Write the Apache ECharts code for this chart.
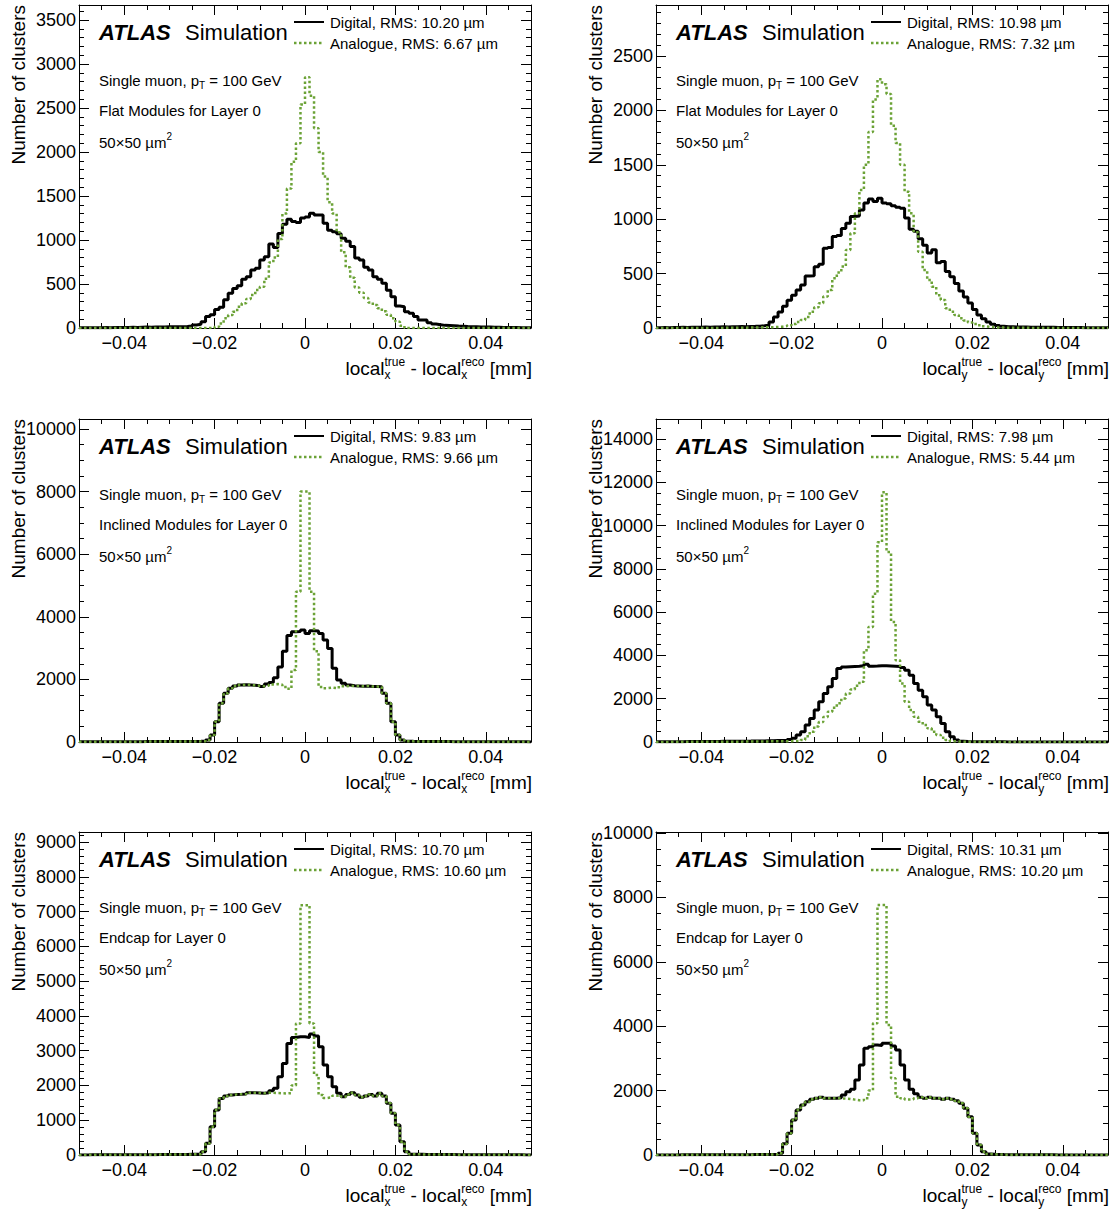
<!DOCTYPE html>
<html><head><meta charset="utf-8">
<script src="https://cdn.jsdelivr.net/npm/echarts@6/dist/echarts.min.js"></script>
<style>html,body{margin:0;padding:0;background:#fff}#c{width:1112px;height:1211px}</style>
</head><body><div id="c"></div>
<script>
// ---------------- DATA (100 bins, 1 µm wide, from -0.05 to 0.05 mm) ----------------
const binLow = -0.05, binWidth = 0.001, nBins = 100;

const flatX_digital = [2,3,2,4,3,5,4,5,6,5,7,8,7,9,10,9,11,12,12,14,15,15,
  15,18,22,35,42,70,130,150,210,235,320,395,450,480,553,583,660,678,773,810,955,915,1075,1180,1235,1210,1200,1250,1260,1303,1285,1285,1190,1110,1095,1070,1020,985,925,795,773,690,660,583,553,508,430,355,250,242,185,167,130,90,90,60,
  45,38,30,28,25,22,20,17,15,14,12,10,10,9,8,7,6,5,5,4,3,3];
const flatX_analogue = [0,0,0,0,0,0,0,0,0,0,0,0,0,0,0,0,0,0,0,0,0,0,0,0,0,0,0,0,0,0,
  15,50,110,148,186,242,280,330,375,432,470,560,745,800,1010,1300,1585,1890,2100,2540,2850,2640,2270,2000,1720,1430,1300,1088,860,690,570,460,400,340,290,260,225,190,150,110,70,25,
  0,0,0,0,0,0,0,0,0,0,0,0,0,0,0,0,0,0,0,0,0,0,0,0,0,0,0,0];

const flatY_digital = [3,4,3,5,5,6,5,7,8,7,9,8,10,9,11,10,12,11,13,12,14,15,17,
  20,25,55,100,148,200,255,300,350,395,477,480,563,585,732,740,840,850,915,963,1025,1030,1085,1148,1185,1163,1193,1148,1141,1123,1110,1100,1010,908,890,820,760,690,720,600,610,520,470,410,340,285,230,170,120,85,55,35,22,15,
  12,11,10,9,9,8,8,7,7,6,6,5,5,5,4,4,4,3,3,3,2,2,2];
const flatY_analogue = [0,0,0,0,0,0,0,0,0,0,0,0,1,1,1,2,2,2,3,3,4,4,5,6,7,8,
  10,12,18,25,37,55,74,100,150,190,227,290,350,456,510,564,717,870,1054,1268,1500,1800,2100,2286,2240,2150,1858,1700,1500,1253,1054,880,700,533,441,380,300,257,181,150,120,90,70,50,37,25,15,10,6,
  5,4,3,3,2,2,2,1,1,1,1,1,0,0,0,0,0,0,0,0,0,0,0,0,0];

const inclX_digital = [5,5,6,6,7,7,8,8,9,9,10,10,11,11,12,12,13,13,14,14,15,15,16,17,18,19,20,25,
  60,224,650,1235,1555,1715,1790,1820,1830,1820,1810,1800,1770,1850,1900,2050,2400,2900,3400,3525,3530,3580,3470,3555,3550,3470,3260,2990,2355,1980,1875,1820,1800,1790,1780,1790,1770,1770,1765,1555,1235,650,224,64,25,
  20,18,17,16,15,14,13,12,12,11,10,10,9,9,8,8,7,7,6,6,5,5,5,4,4,4,3];
const inclX_analogue = [5,5,6,6,7,7,8,8,9,9,10,10,11,11,12,12,13,13,14,14,15,15,16,17,18,19,20,25,
  60,224,650,1235,1555,1715,1790,1820,1830,1820,1810,1800,1780,1800,1840,1850,1830,1760,1700,2300,4800,8000,8000,4800,2900,1760,1720,1740,1720,1750,1780,1790,1790,1790,1780,1790,1770,1770,1765,1555,1235,650,224,64,25,
  20,18,17,16,15,14,13,12,12,11,10,10,9,9,8,8,7,7,6,6,5,5,5,4,4,4,3];

const inclY_digital = [10,12,12,14,15,16,18,20,20,22,24,25,27,28,30,32,34,36,38,40,42,45,48,50,55,60,65,70,
  80,120,170,320,476,783,1090,1475,1860,2243,2550,2934,3395,3460,3480,3490,3500,3520,3594,3502,3510,3520,3520,3510,3500,3490,3440,3318,3088,2703,2396,2089,1705,1475,1167,860,476,246,92,40,20,
  15,12,10,9,8,7,6,6,5,5,4,4,4,3,3,3,3,2,2,2,2,2,1,1,1,1,1,1,1,1,1];
const inclY_analogue = [5,5,6,6,7,7,8,8,9,9,10,10,11,12,13,14,15,16,17,18,20,22,24,26,28,30,32,35,38,40,45,50,
  90,260,470,720,920,1150,1400,1580,1790,2010,2240,2420,2600,2780,4240,5315,6850,9232,11536,8771,5545,3779,2703,1859,1475,1167,937,783,630,476,322,200,92,40,20,
  15,12,10,8,7,6,5,5,4,4,3,3,3,2,2,2,2,1,1,1,1,1,1,1,0,0,0,0,0,0,0,0,0];

const endcapX_digital = [3,3,4,4,5,5,5,6,6,7,7,8,8,9,9,10,10,11,12,12,13,14,15,16,18,20,25,
  96,335,814,1293,1628,1695,1724,1743,1745,1753,1791,1790,1785,1775,1790,1849,1916,2251,2634,3209,3381,3400,3400,3381,3477,3420,3113,2586,2251,1964,1772,1676,1743,1791,1724,1657,1695,1743,1695,1772,1695,1485,1197,862,383,96,
  25,20,18,16,15,14,13,12,12,11,10,10,9,9,8,8,7,7,6,6,5,5,5,4,4,3,3];
const endcapX_analogue = [3,3,4,4,5,5,5,6,6,7,7,8,8,9,9,10,10,11,12,12,13,14,15,16,18,20,25,
  96,335,814,1293,1628,1695,1724,1743,1745,1753,1791,1790,1785,1775,1790,1790,1780,1775,1770,1780,2000,3783,7184,7184,3783,2300,1724,1640,1660,1700,1720,1676,1743,1791,1724,1657,1695,1743,1695,1772,1695,1485,1197,862,383,96,
  25,20,18,16,15,14,13,12,12,11,10,10,9,9,8,8,7,7,6,6,5,5,5,4,4,3,3];

const endcapY_digital = [2,2,3,3,3,4,4,5,5,5,6,6,7,7,8,8,9,9,10,10,11,12,13,14,15,17,20,
  52,350,673,1087,1398,1553,1656,1730,1760,1791,1760,1760,1760,1780,1863,1967,2039,2329,2795,3313,3364,3416,3400,3468,3468,3385,3261,2795,2329,2039,1900,1791,1760,1791,1760,1760,1729,1760,1729,1687,1605,1449,1190,673,311,104,
  31,20,15,12,10,9,8,7,6,6,5,5,4,4,4,3,3,3,2,2,2,2,2,1,1,1,1];
const endcapY_analogue = [2,2,3,3,3,4,4,5,5,5,6,6,7,7,8,8,9,9,10,10,11,12,13,14,15,17,20,
  52,350,673,1087,1398,1553,1656,1730,1760,1791,1760,1760,1760,1760,1750,1740,1720,1700,1700,1760,2000,4089,7764,7764,4037,2381,1811,1760,1720,1730,1760,1791,1760,1791,1760,1760,1729,1760,1729,1687,1605,1449,1190,673,311,104,
  31,20,15,12,10,9,8,7,6,6,5,5,4,4,4,3,3,3,2,2,2,2,2,1,1,1,1];

const xTickLabels = [-0.04, -0.02, 0, 0.02, 0.04];
const yTicksFlatX   = [0,500,1000,1500,2000,2500,3000,3500];
const yTicksFlatY   = [0,500,1000,1500,2000,2500];
const yTicksInclX   = [0,2000,4000,6000,8000,10000];
const yTicksInclY   = [0,2000,4000,6000,8000,10000,12000,14000];
const yTicksEndcapX = [0,1000,2000,3000,4000,5000,6000,7000,8000,9000];
const yTicksEndcapY = [0,2000,4000,6000,8000,10000];

const panels = [
  {dir:'x', region:'Flat Modules for Layer 0',     d:flatX_digital,   a:flatX_analogue,   rmsD:'10.20', rmsA:'6.67',  yMax:3670,  yTicks:yTicksFlatX,   yMinorStep:100},
  {dir:'y', region:'Flat Modules for Layer 0',     d:flatY_digital,   a:flatY_analogue,   rmsD:'10.98', rmsA:'7.32',  yMax:2968,  yTicks:yTicksFlatY,   yMinorStep:100},
  {dir:'x', region:'Inclined Modules for Layer 0', d:inclX_digital,   a:inclX_analogue,   rmsD:'9.83',  rmsA:'9.66',  yMax:10320, yTicks:yTicksInclX,   yMinorStep:500},
  {dir:'y', region:'Inclined Modules for Layer 0', d:inclY_digital,   a:inclY_analogue,   rmsD:'7.98',  rmsA:'5.44',  yMax:14920, yTicks:yTicksInclY,   yMinorStep:500},
  {dir:'x', region:'Endcap for Layer 0',           d:endcapX_digital, a:endcapX_analogue, rmsD:'10.70', rmsA:'10.60', yMax:9287,  yTicks:yTicksEndcapX, yMinorStep:200},
  {dir:'y', region:'Endcap for Layer 0',           d:endcapY_digital, a:endcapY_analogue, rmsD:'10.31', rmsA:'10.20', yMax:10031, yTicks:yTicksEndcapY, yMinorStep:500}
];

// ---------------- LAYOUT / STYLE ----------------
const FONT = '"Liberation Sans", Arial, Helvetica, sans-serif';
const GREEN = '#6ba236';
const colLeft = [79, 656], rowTop = [5, 419, 832], PW = 452, PH = 323;
const cv = document.createElement('canvas').getContext('2d');
function tw(t, s, w, st){ cv.font = (st||'normal') + ' ' + (w||'normal') + ' ' + s + 'px ' + FONT; return cv.measureText(t).width; }
function txt(t, x, y, s, o){ o = o || {}; return {type:'text', x:x, y:y, silent:true, z:100, rotation:o.rot||0,
  style:{text:t, fontSize:s, fontFamily:FONT, fontWeight:o.w||'normal', fontStyle:o.st||'normal', fill:o.fill||'#000', align:o.align||'left', verticalAlign:'middle'}}; }
// lay out a run of segments (with optional stacked sub/superscripts)
function run(items, x0, y, alignRight){
  const widths = items.map(it => it.stack ? Math.max.apply(null, it.stack.map(s => tw(s.t, s.s))) : tw(it.t, it.s, it.w, it.st));
  let x = alignRight ? x0 - widths.reduce((a,b)=>a+b,0) : x0;
  const out = [];
  items.forEach((it, i) => {
    const parts = it.stack || [it];
    parts.forEach(p => out.push(txt(p.t, x, y + (p.dy||0), p.s, {w:p.w, st:p.st})));
    x += widths[i];
  });
  return out;
}
function range(a, b, step){ const r=[]; for(let k=Math.round(a/step); k*step<=b+1e-9; k++) r.push(+(k*step).toFixed(6)); return r; }

const grids=[], xAxes=[], yAxes=[], series=[], graphics=[];
const xMinor = range(-0.05, 0.05, 0.005).filter(v => !xTickLabels.some(m => Math.abs(m-v)<1e-9));
const tickLine = {color:'#000', width:1};

panels.forEach((p, g) => {
  const L = colLeft[g%2], T = rowTop[Math.floor(g/2)];
  grids.push({left:L, top:T, width:PW, height:PH, containLabel:false});
  const xi = xAxes.length, yi = yAxes.length;
  const xBase = {type:'value', gridIndex:g, min:binLow, max:binLow+nBins*binWidth, splitLine:{show:false}, axisPointer:{show:false}};
  xAxes.push(Object.assign({}, xBase, {position:'bottom', axisLine:{show:true, onZero:false, lineStyle:tickLine},
    axisTick:{show:true, inside:true, length:10, customValues:xTickLabels, lineStyle:tickLine},
    axisLabel:{show:true, customValues:xTickLabels, margin:6, fontSize:18, fontFamily:FONT, color:'#000',
      formatter: v => v === 0 ? '0' : v.toFixed(2).replace('-', '\u2212')}}));
  xAxes.push(Object.assign({}, xBase, {position:'bottom', axisLine:{show:false, onZero:false}, axisTick:{show:true, inside:true, length:5, customValues:xMinor, lineStyle:tickLine}, axisLabel:{show:false}}));
  xAxes.push(Object.assign({}, xBase, {position:'top', axisLine:{show:true, onZero:false, lineStyle:tickLine}, axisTick:{show:true, inside:true, length:10, customValues:xTickLabels, lineStyle:tickLine}, axisLabel:{show:false}}));
  xAxes.push(Object.assign({}, xBase, {position:'top', axisLine:{show:false, onZero:false}, axisTick:{show:true, inside:true, length:5, customValues:xMinor, lineStyle:tickLine}, axisLabel:{show:false}}));

  const yMinor = range(0, p.yMax, p.yMinorStep).filter(v => !p.yTicks.includes(v));
  const yBase = {type:'value', gridIndex:g, min:0, max:p.yMax, splitLine:{show:false}, axisPointer:{show:false}};
  yAxes.push(Object.assign({}, yBase, {position:'left', axisLine:{show:true, onZero:false, lineStyle:tickLine},
    axisTick:{show:true, inside:true, length:10, customValues:p.yTicks, lineStyle:tickLine},
    axisLabel:{show:true, customValues:p.yTicks, margin:3, fontSize:18, fontFamily:FONT, color:'#000', formatter: v => String(Math.round(v))}}));
  yAxes.push(Object.assign({}, yBase, {position:'left', axisLine:{show:false, onZero:false}, axisTick:{show:true, inside:true, length:5, customValues:yMinor, lineStyle:tickLine}, axisLabel:{show:false}}));
  yAxes.push(Object.assign({}, yBase, {position:'right', axisLine:{show:true, onZero:false, lineStyle:tickLine}, axisTick:{show:true, inside:true, length:10, customValues:p.yTicks, lineStyle:tickLine}, axisLabel:{show:false}}));
  yAxes.push(Object.assign({}, yBase, {position:'right', axisLine:{show:false, onZero:false}, axisTick:{show:true, inside:true, length:5, customValues:yMinor, lineStyle:tickLine}, axisLabel:{show:false}}));

  const toSteps = vals => { const pts = vals.map((v,i) => [binLow + i*binWidth, v]); pts.push([binLow + nBins*binWidth, vals[vals.length-1]]); return pts; };
  series.push({type:'line', name:'Digital', xAxisIndex:xi, yAxisIndex:yi, step:'end', symbol:'none', animation:false, silent:true,
    lineStyle:{color:'#000', width:3}, data:toSteps(p.d), z:2});
  series.push({type:'line', name:'Analogue', xAxisIndex:xi, yAxisIndex:yi, step:'end', symbol:'none', animation:false, silent:true,
    lineStyle:{color:GREEN, width:2.5, type:[2.5,2.5], cap:'butt'}, data:toSteps(p.a), z:3});

  // texts
  graphics.push(txt('ATLAS', L+20, T+27, 22, {w:'bold', st:'italic'}));
  graphics.push(txt('Simulation', L+106, T+27, 22));
  graphics.push({type:'line', silent:true, shape:{x1:L+215, y1:T+17, x2:L+245, y2:T+17}, style:{stroke:'#000', lineWidth:2}});
  graphics.push({type:'line', silent:true, shape:{x1:L+215, y1:T+38, x2:L+245, y2:T+38}, style:{stroke:GREEN, lineWidth:2.5, lineDash:[2.5,2.5]}});
  graphics.push(txt('Digital, RMS: ' + p.rmsD + ' \u00b5m', L+251, T+17, 15));
  graphics.push(txt('Analogue, RMS: ' + p.rmsA + ' \u00b5m', L+251, T+38, 15));
  run([{t:'Single muon, p', s:15}, {t:'T', s:10, dy:5}, {t:' = 100 GeV', s:15}], L+20, T+75).forEach(e => graphics.push(e));
  graphics.push(txt(p.region, L+20, T+105, 15));
  run([{t:'50\u00d750 \u00b5m', s:15}, {t:'2', s:10, dy:-6}], L+20, T+137).forEach(e => graphics.push(e));
  // axis titles
  graphics.push(txt('Number of clusters', L-61, T, 19, {rot:Math.PI/2, align:'right'}));
  run([{t:'local', s:19}, {stack:[{t:'true', s:12, dy:-6}, {t:p.dir, s:12, dy:7}]},
       {t:' - local', s:19}, {stack:[{t:'reco', s:12, dy:-6}, {t:p.dir, s:12, dy:7}]},
       {t:' [mm]', s:19}], L+PW+1, T+PH+40, true).forEach(e => graphics.push(e));
});

const chart = echarts.init(document.getElementById('c'), null, {renderer:'svg'});
chart.setOption({animation:false, backgroundColor:'#fff', grid:grids, xAxis:xAxes, yAxis:yAxes, series:series, graphic:{elements:graphics}});
</script></body></html>
